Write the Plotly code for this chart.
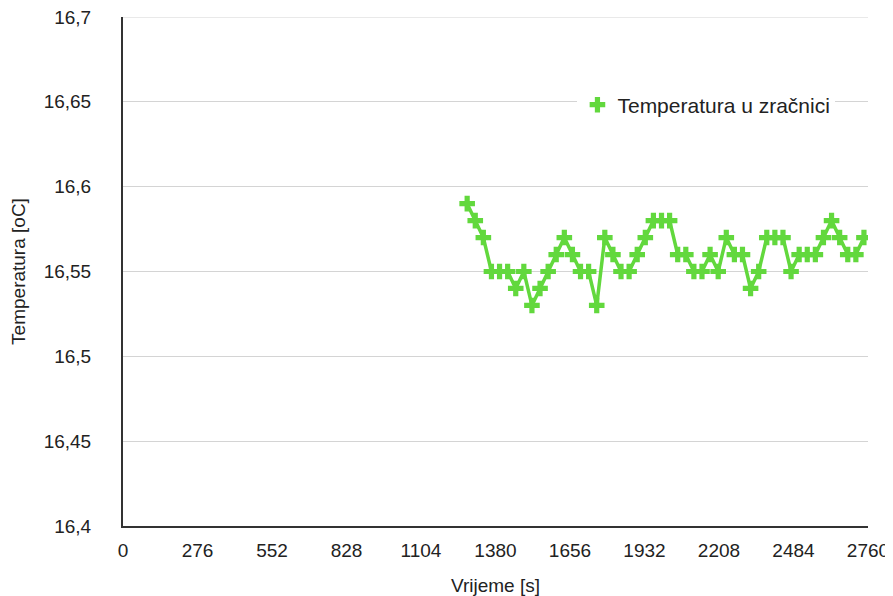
import plotly.graph_objects as go

times = [1275 + 30 * i for i in range(50)]
temps = [16.59, 16.58, 16.57, 16.55, 16.55, 16.55, 16.54, 16.55, 16.53, 16.54,
         16.55, 16.56, 16.57, 16.56, 16.55, 16.55, 16.53, 16.57, 16.56, 16.55,
         16.55, 16.56, 16.57, 16.58, 16.58, 16.58, 16.56, 16.56, 16.55, 16.55,
         16.56, 16.55, 16.57, 16.56, 16.56, 16.54, 16.55, 16.57, 16.57, 16.57,
         16.55, 16.56, 16.56, 16.56, 16.57, 16.58, 16.57, 16.56, 16.56, 16.57]

x_ticks = [0, 276, 552, 828, 1104, 1380, 1656, 1932, 2208, 2484, 2760]
y_ticks = [16.4, 16.45, 16.5, 16.55, 16.6, 16.65, 16.7]
y_tick_labels = ["16,4", "16,45", "16,5", "16,55", "16,6", "16,65", "16,7"]

green = "#62d83d"
font = "Liberation Sans, Arial, sans-serif"

fig = go.Figure()
fig.add_trace(go.Scatter(
    x=times, y=temps, mode="lines", showlegend=False, hoverinfo="skip",
    line=dict(color=green, width=3.5),
))
fig.add_trace(go.Scatter(
    x=times, y=temps, mode="markers", name="Temperatura u zračnici",
    marker=dict(symbol="cross", size=13, color=green),
))

# top gridline (plotly omits gridlines at the range edge)
fig.add_shape(type="line", xref="paper", yref="y", x0=0, x1=1,
              y0=y_ticks[-1], y1=y_ticks[-1],
              line=dict(color="#d4d4d4", width=1), layer="below")

fig.update_layout(
    width=885, height=588,
    margin=dict(l=115, r=25, t=9, b=70),
    paper_bgcolor="white", plot_bgcolor="white",
    font=dict(family=font, size=20, color="#222"),
    showlegend=True,
    legend=dict(x=0.61, y=0.827, xanchor="left", yanchor="middle",
                bgcolor="white", font=dict(size=21, color="#222"),
                itemwidth=30, tracegroupgap=0),
    xaxis=dict(
        range=[0, 2760], tickvals=x_ticks, ticktext=[str(v) for v in x_ticks],
        showgrid=False, zeroline=False, showline=True, linecolor="#333",
        linewidth=2, ticks="", tickfont=dict(size=19), automargin=False,
        ticklabelstandoff=6, ticklabeloverflow="allow",
        title=dict(text="Vrijeme [s]", font=dict(size=19), standoff=21),
    ),
    yaxis=dict(
        range=[16.4, 16.7], tickvals=y_ticks, ticktext=y_tick_labels,
        showgrid=True, gridcolor="#d4d4d4", gridwidth=1, zeroline=False,
        showline=True, linecolor="#333", linewidth=2, ticks="",
        tickfont=dict(size=19), automargin=False, ticklabelstandoff=26,
        ticklabeloverflow="allow",
        title=dict(text="Temperatura [oC]", font=dict(size=19), standoff=50),
    ),
)

fig.write_html("out.html")
